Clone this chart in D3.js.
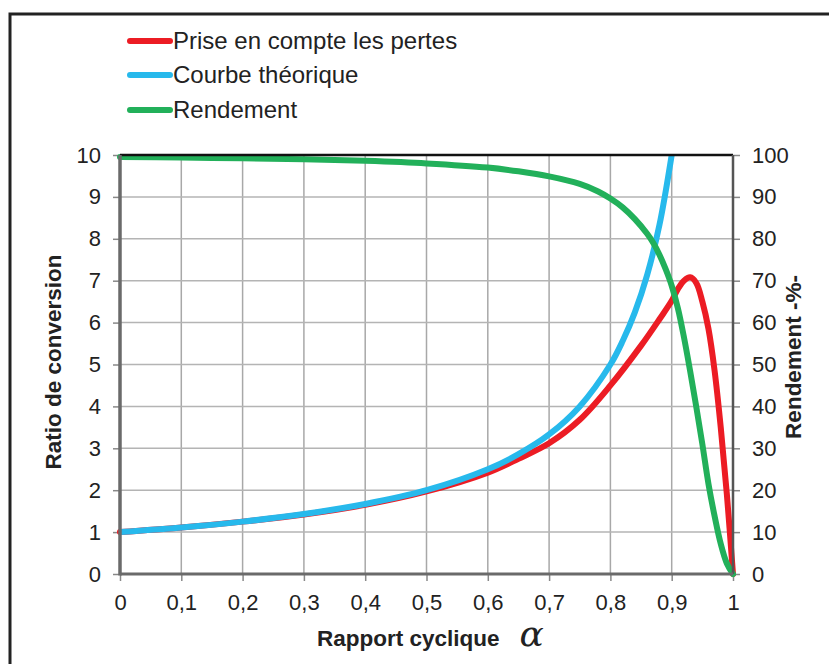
<!DOCTYPE html>
<html><head><meta charset="utf-8">
<script src="https://cdn.jsdelivr.net/npm/d3@7"></script>
<style>
body{margin:0;background:#fff;}
text{font-family:"Liberation Sans",Arial,sans-serif;fill:#222;}
</style></head>
<body><svg id="c" width="829" height="664"></svg>
<script>
const xTicks = [0,0.1,0.2,0.3,0.4,0.5,0.6,0.7,0.8,0.9,1];
const xTickLabels = ["0","0,1","0,2","0,3","0,4","0,5","0,6","0,7","0,8","0,9","1"];
const yLeftTicks = [0,1,2,3,4,5,6,7,8,9,10];
const yRightTicks = [0,10,20,30,40,50,60,70,80,90,100];

const seriesNames = ["Prise en compte les pertes","Courbe théorique","Rendement"];

const alphaPertes = [0,0.1,0.2,0.3,0.4,0.5,0.6,0.65,0.7,0.75,0.8,0.85,0.88,0.9,0.91,0.92,0.93,0.94,0.95,0.96,0.97,0.98,0.99,1.0];
const ratioPertes = [1,1.11,1.25,1.42,1.65,1.97,2.42,2.75,3.12,3.68,4.5,5.45,6.08,6.52,6.8,7.0,7.08,6.95,6.5,5.85,4.85,3.5,1.9,0];

const alphaTheo = [0,0.1,0.2,0.3,0.4,0.5,0.6,0.65,0.7,0.75,0.8,0.82,0.84,0.86,0.88,0.9];
const ratioTheo = [1,1.11,1.25,1.43,1.67,2,2.5,2.86,3.33,4,5,5.56,6.25,7.14,8.33,10];

const alphaRend = [0,0.1,0.2,0.3,0.4,0.5,0.6,0.65,0.7,0.75,0.78,0.8,0.82,0.84,0.86,0.87,0.88,0.89,0.9,0.91,0.92,0.93,0.94,0.95,0.96,0.97,0.98,0.99,1.0];
const rendement = [99.5,99.4,99.2,99,98.6,98,97,96.1,94.9,93.1,91.3,89.6,87.5,84.7,81.2,79,76.2,72.8,68.8,63.5,56.5,48.5,40,31,21.5,13.8,7.2,2.5,0];

const colors = ["#ec1c24","#27b9ec","#22b05a"];

const svg = d3.select("#c");
const L=120,R=733,T=155,B=574;
const x = d3.scaleLinear().domain([0,1]).range([L,R]);
const yL = d3.scaleLinear().domain([0,10]).range([B,T]);
const yR = d3.scaleLinear().domain([0,100]).range([B,T]);

// outer frame
svg.append("rect").attr("x",10).attr("y",14).attr("width",840).attr("height",680)
  .attr("fill","none").attr("stroke","#222").attr("stroke-width",3);

// grid
const g = svg.append("g");
g.selectAll(".vg").data(xTicks.slice(1,-1)).enter().append("line")
  .attr("x1",d=>x(d)).attr("x2",d=>x(d)).attr("y1",T).attr("y2",B)
  .attr("stroke","#a8a8a8").attr("stroke-width",1.5);
g.selectAll(".hg").data(yLeftTicks.slice(1,-1)).enter().append("line")
  .attr("x1",L).attr("x2",R).attr("y1",d=>yL(d)).attr("y2",d=>yL(d))
  .attr("stroke","#b4b4b4").attr("stroke-width",1.5);

// axes
const axL = d3.axisLeft(yL).tickValues(yLeftTicks).tickSize(7).tickPadding(12).tickFormat(d=>String(d));
const axR = d3.axisRight(yR).tickValues(yRightTicks).tickSize(7).tickPadding(12).tickFormat(d=>String(d));
const axB = d3.axisBottom(x).tickValues(xTicks).tickSize(7).tickPadding(13).tickFormat((d,i)=>xTickLabels[i]);
function style(sel){
  sel.select(".domain").remove();
  sel.selectAll(".tick line").attr("stroke","#888").attr("stroke-width",1.5);
  sel.selectAll(".tick text").attr("font-size",22).style("fill","#222").attr("font-family","'Liberation Sans',Arial,sans-serif");
}
svg.append("g").attr("transform",`translate(${L},0)`).call(axL).call(style);
svg.append("g").attr("transform",`translate(${R},0)`).call(axR).call(style);
svg.append("g").attr("transform",`translate(0,${B})`).call(axB).call(style);

// curves
const lineL = d3.line().x(d=>x(d[0])).y(d=>yL(d[1])).curve(d3.curveCatmullRom.alpha(0.5));
const lineR = d3.line().x(d=>x(d[0])).y(d=>yR(d[1])).curve(d3.curveCatmullRom.alpha(0.5));
const cg = svg.append("g");
cg.append("path").datum(d3.zip(alphaPertes,ratioPertes)).attr("d",lineL)
  .attr("fill","none").attr("stroke",colors[0]).attr("stroke-width",6).attr("stroke-linejoin","round").attr("stroke-linecap","round");
cg.append("path").datum(d3.zip(alphaTheo,ratioTheo)).attr("d",lineL)
  .attr("fill","none").attr("stroke",colors[1]).attr("stroke-width",6).attr("stroke-linejoin","round");
cg.append("path").datum(d3.zip(alphaRend,rendement)).attr("d",lineR)
  .attr("fill","none").attr("stroke",colors[2]).attr("stroke-width",6).attr("stroke-linejoin","round").attr("stroke-linecap","round");

// plot frame
svg.append("line").attr("x1",L).attr("x2",R).attr("y1",T).attr("y2",T).attr("stroke","#111").attr("stroke-width",2.5);
svg.append("line").attr("x1",R).attr("x2",R).attr("y1",T).attr("y2",B).attr("stroke","#555").attr("stroke-width",2.5);
svg.append("line").attr("x1",L).attr("x2",R).attr("y1",B).attr("y2",B).attr("stroke","#6a6a6a").attr("stroke-width",3);
svg.append("line").attr("x1",L).attr("x2",L).attr("y1",T).attr("y2",B+1.5).attr("stroke","#6a6a6a").attr("stroke-width",3.5);

// legend
const leg = svg.append("g");
const legY = [41,75,110];
seriesNames.forEach((n,i)=>{
  leg.append("line").attr("x1",130).attr("x2",170).attr("y1",legY[i]).attr("y2",legY[i])
    .attr("stroke",colors[i]).attr("stroke-width",6).attr("stroke-linecap","round");
  leg.append("text").attr("x",173).attr("y",legY[i]).attr("dy","0.35em").attr("font-size",24).text(n);
});

// axis titles
svg.append("text").attr("transform","translate(61,362) rotate(-90)").attr("text-anchor","middle")
  .attr("font-size",22.5).attr("font-weight","bold").text("Ratio de conversion");
svg.append("text").attr("transform","translate(801,357) rotate(-90)").attr("text-anchor","middle")
  .attr("font-size",22.5).attr("font-weight","bold").text("Rendement -%-");
const xt = svg.append("text").attr("x",317).attr("y",646).attr("font-size",22.5).attr("font-weight","bold");
xt.append("tspan").text("Rapport cyclique");
xt.append("tspan").attr("dx",20).attr("font-family","'DejaVu Serif','Liberation Serif',serif").attr("font-style","italic").attr("font-weight","normal").attr("font-size",36).text("α");
</script></body></html>
